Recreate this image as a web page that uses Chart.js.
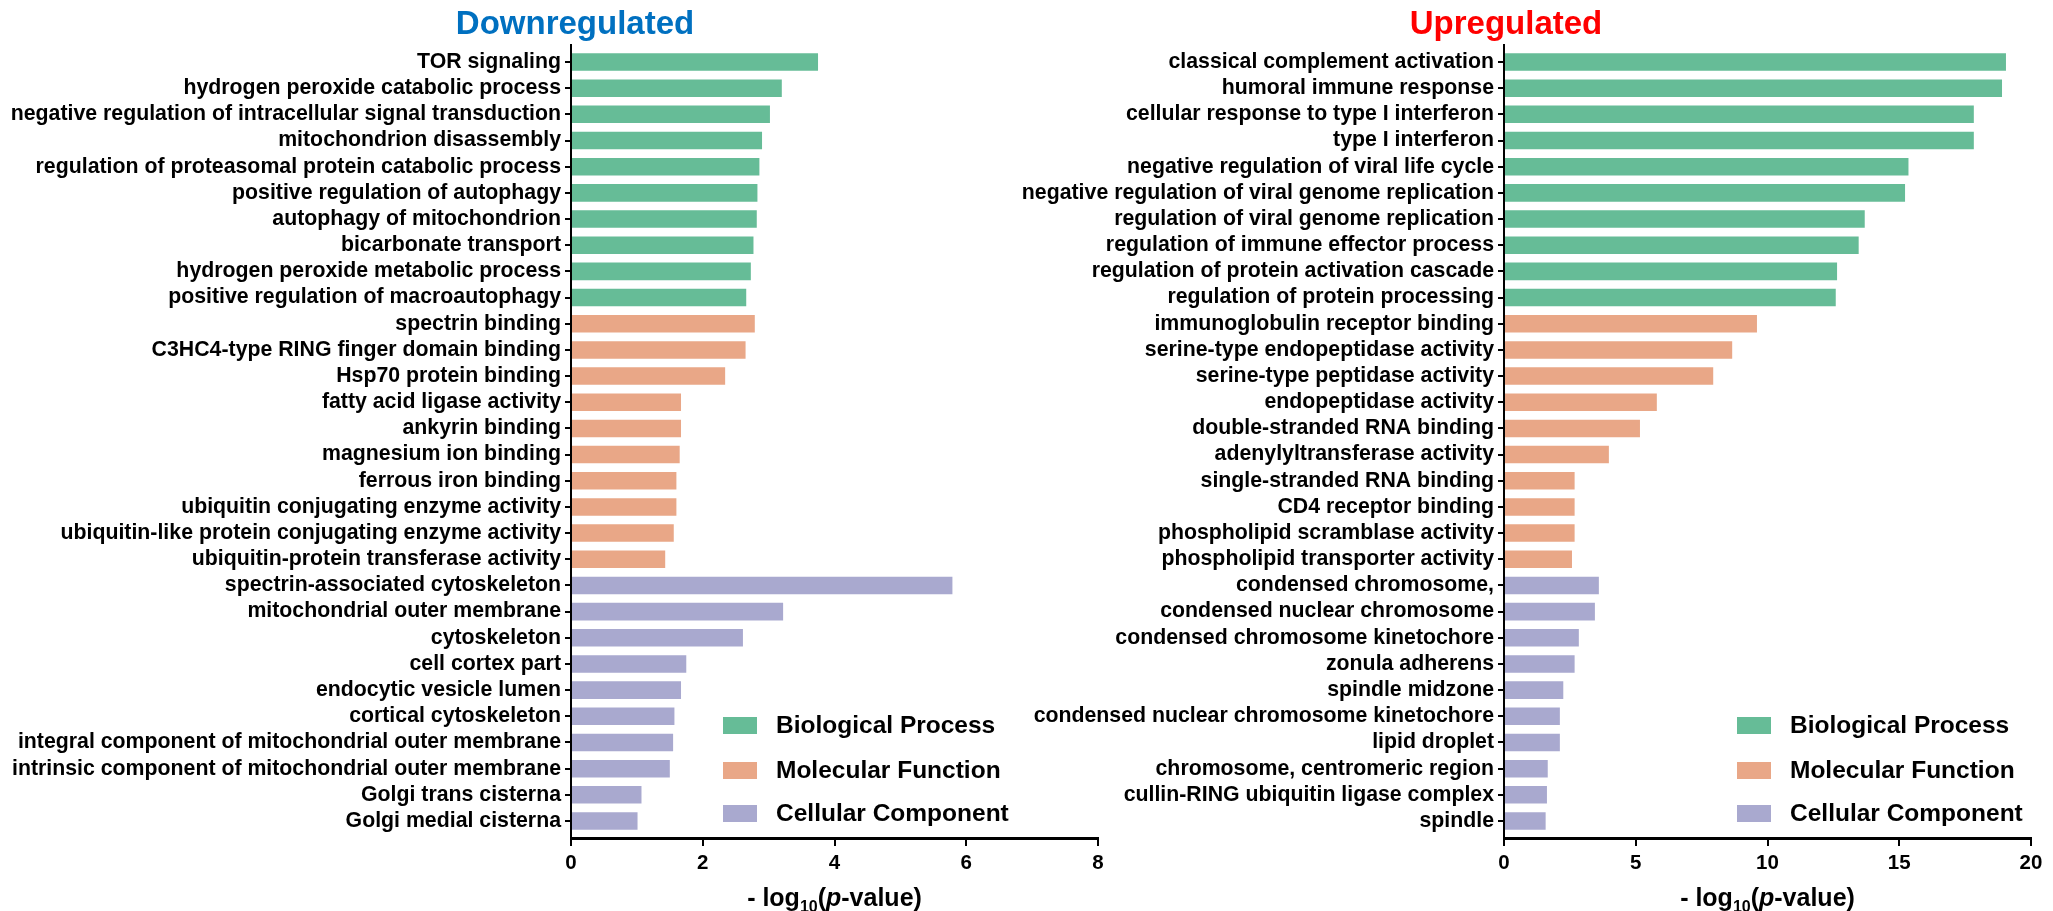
<!DOCTYPE html>
<html>
<head>
<meta charset="utf-8">
<script src="https://cdn.jsdelivr.net/npm/chart.js@4/dist/chart.umd.min.js"></script>
<style>
  html, body { margin: 0; padding: 0; background: #ffffff; }
  #wrap { position: relative; width: 2053px; height: 911px; overflow: hidden; }
  canvas { position: absolute; top: 0; }
  #c1 { left: 0; }
  #c2 { left: 1010px; }
</style>
</head>
<body>
<div id="wrap">
  <canvas id="c1" width="1110" height="911"></canvas>
  <canvas id="c2" width="1043" height="911"></canvas>
</div>
<script>
// ---------- DATA ----------
const groupNames = ['Biological Process', 'Molecular Function', 'Cellular Component'];
const groupColors = ['#66BC97', '#E9A787', '#A9A9CF'];

// Downregulated
const downBPLabels = ['TOR signaling', 'hydrogen peroxide catabolic process', 'negative regulation of intracellular signal transduction', 'mitochondrion disassembly', 'regulation of proteasomal protein catabolic process', 'positive regulation of autophagy', 'autophagy of mitochondrion', 'bicarbonate transport', 'hydrogen peroxide metabolic process', 'positive regulation of macroautophagy'];
const downBPValues = [3.75, 3.20, 3.02, 2.90, 2.86, 2.83, 2.82, 2.77, 2.73, 2.66];
const downMFLabels = ['spectrin binding', 'C3HC4-type RING finger domain binding', 'Hsp70 protein binding', 'fatty acid ligase activity', 'ankyrin binding', 'magnesium ion binding', 'ferrous iron binding', 'ubiquitin conjugating enzyme activity', 'ubiquitin-like protein conjugating enzyme activity', 'ubiquitin-protein transferase activity'];
const downMFValues = [2.79, 2.65, 2.34, 1.67, 1.67, 1.65, 1.60, 1.60, 1.56, 1.43];
const downCCLabels = ['spectrin-associated cytoskeleton', 'mitochondrial outer membrane', 'cytoskeleton', 'cell cortex part', 'endocytic vesicle lumen', 'cortical cytoskeleton', 'integral component of mitochondrial outer membrane', 'intrinsic component of mitochondrial outer membrane', 'Golgi trans cisterna', 'Golgi medial cisterna'];
const downCCValues = [5.79, 3.22, 2.61, 1.75, 1.67, 1.57, 1.55, 1.50, 1.07, 1.01];
const downTicks = [0, 2, 4, 6, 8];

// Upregulated
const upBPLabels = ['classical complement activation', 'humoral immune response', 'cellular response to type I interferon', 'type I interferon', 'negative regulation of viral life cycle', 'negative regulation of viral genome replication', 'regulation of viral genome replication', 'regulation of immune effector process', 'regulation of protein activation cascade', 'regulation of protein processing'];
const upBPValues = [19.05, 18.90, 17.83, 17.83, 15.35, 15.22, 13.69, 13.46, 12.64, 12.59];
const upMFLabels = ['immunoglobulin receptor binding', 'serine-type endopeptidase activity', 'serine-type peptidase activity', 'endopeptidase activity', 'double-stranded RNA binding', 'adenylyltransferase activity', 'single-stranded RNA binding', 'CD4 receptor binding', 'phospholipid scramblase activity', 'phospholipid transporter activity'];
const upMFValues = [9.60, 8.66, 7.94, 5.80, 5.16, 3.98, 2.68, 2.68, 2.68, 2.58];
const upCCLabels = ['condensed chromosome,', 'condensed nuclear chromosome', 'condensed chromosome kinetochore', 'zonula adherens', 'spindle midzone', 'condensed nuclear chromosome kinetochore', 'lipid droplet', 'chromosome, centromeric region', 'cullin-RING ubiquitin ligase complex', 'spindle'];
const upCCValues = [3.60, 3.45, 2.84, 2.68, 2.25, 2.12, 2.12, 1.66, 1.63, 1.58];
const upTicks = [0, 5, 10, 15, 20];

// ---------- RENDERING ----------
const FONT = "'Liberation Sans', Arial, Helvetica, sans-serif";
Chart.defaults.font.family = FONT;
Chart.defaults.color = '#000';

const extras = {
  id: 'extras',
  afterDraw(chart, args, o) {
    const ctx = chart.ctx, ca = chart.chartArea;
    ctx.save();
    // Title
    ctx.font = 'bold 33px ' + FONT;
    ctx.fillStyle = o.titleColor;
    ctx.textAlign = 'center';
    ctx.textBaseline = 'alphabetic';
    ctx.fillText(o.title, ca.left + o.titleDx, 34);

    // Axis title: - log10(p-value)
    const parts = [
      { t: '- log', f: 'bold 25px ' + FONT, dy: 0 },
      { t: '10', f: 'bold 16px ' + FONT, dy: 6 },
      { t: '(', f: 'bold 25px ' + FONT, dy: 0 },
      { t: 'p', f: 'italic bold 25px ' + FONT, dy: 0 },
      { t: '-value)', f: 'bold 25px ' + FONT, dy: 0 }
    ];
    let total = 0;
    parts.forEach(p => { ctx.font = p.f; p.w = ctx.measureText(p.t).width; total += p.w; });
    let x = (ca.left + ca.right) / 2 - total / 2;
    const base = 906;
    ctx.fillStyle = '#000';
    ctx.textAlign = 'left';
    parts.forEach(p => { ctx.font = p.f; ctx.fillText(p.t, x, base + p.dy); x += p.w; });

    // Legend
    const rows = [725.5, 770.5, 813.5];
    ctx.textBaseline = 'middle';
    ctx.font = 'bold 24.5px ' + FONT;
    groupNames.forEach((name, i) => {
      ctx.fillStyle = groupColors[i];
      ctx.fillRect(o.legendX, rows[i] - 8.5, 34, 17);
      ctx.fillStyle = '#000';
      ctx.fillText(name, o.legendX + 53, rows[i] + 1);
    });
    ctx.restore();
  }
};

function makeChart(canvasId, bp, bpv, mf, mfv, cc, ccv, xTicks, opts) {
  const labels = bp.concat(mf, cc);
  const values = bpv.concat(mfv, ccv);
  const colors = bp.map(() => groupColors[0])
    .concat(mf.map(() => groupColors[1]), cc.map(() => groupColors[2]));
  const data = values.map((v, i) => ({ x: v, y: i }));
  const n = labels.length;
  const step = xTicks[1] - xTicks[0];

  return new Chart(document.getElementById(canvasId), {
    type: 'bar',
    data: {
      datasets: [{
        data: data,
        backgroundColor: colors,
        borderWidth: 0,
        categoryPercentage: 1.0,
        barPercentage: 0.67
      }]
    },
    options: {
      indexAxis: 'y',
      responsive: false,
      animation: false,
      devicePixelRatio: 1,
      layout: { padding: { top: 45, right: opts.padRight, left: 0, bottom: 0 } },
      plugins: {
        legend: { display: false },
        tooltip: { enabled: false },
        extras: { title: opts.title, titleColor: opts.titleColor, titleDx: opts.titleDx, legendX: opts.legendX }
      },
      scales: {
        y: {
          type: 'linear',
          reverse: true,
          offset: false,
          min: -0.65,
          max: n - 1 + 0.65,
          afterFit: s => { s.width = opts.yWidth; },
          afterBuildTicks: s => { s.ticks = labels.map((_, i) => ({ value: i })); },
          ticks: {
            autoSkip: false,
            padding: 4,
            font: { size: 21.3, weight: 'bold' },
            color: '#000',
            callback: v => labels[v]
          },
          grid: { display: true, offset: false, drawOnChartArea: false, drawTicks: true, tickLength: 6, color: '#000', lineWidth: 2 },
          border: { display: true, color: '#000', width: 2 }
        },
        x: {
          type: 'linear',
          min: xTicks[0],
          max: xTicks[xTicks.length - 1],
          afterFit: s => { s.height = 73; },
          ticks: {
            stepSize: step,
            padding: 5,
            font: { size: 20.5, weight: 'bold' },
            color: '#000',
            maxRotation: 0
          },
          grid: { display: true, drawOnChartArea: false, drawTicks: true, tickLength: 8, color: '#000', lineWidth: 2 },
          border: { display: true, color: '#000', width: 3 }
        }
      }
    },
    plugins: [extras]
  });
}

makeChart('c1', downBPLabels, downBPValues, downMFLabels, downMFValues, downCCLabels, downCCValues, downTicks,
  { yWidth: 571, padRight: 12, title: 'Downregulated', titleColor: '#0070C0', titleDx: 4, legendX: 723 });

makeChart('c2', upBPLabels, upBPValues, upMFLabels, upMFValues, upCCLabels, upCCValues, upTicks,
  { yWidth: 494, padRight: 22, title: 'Upregulated', titleColor: '#FF0000', titleDx: 2, legendX: 727 });
</script>
</body>
</html>
